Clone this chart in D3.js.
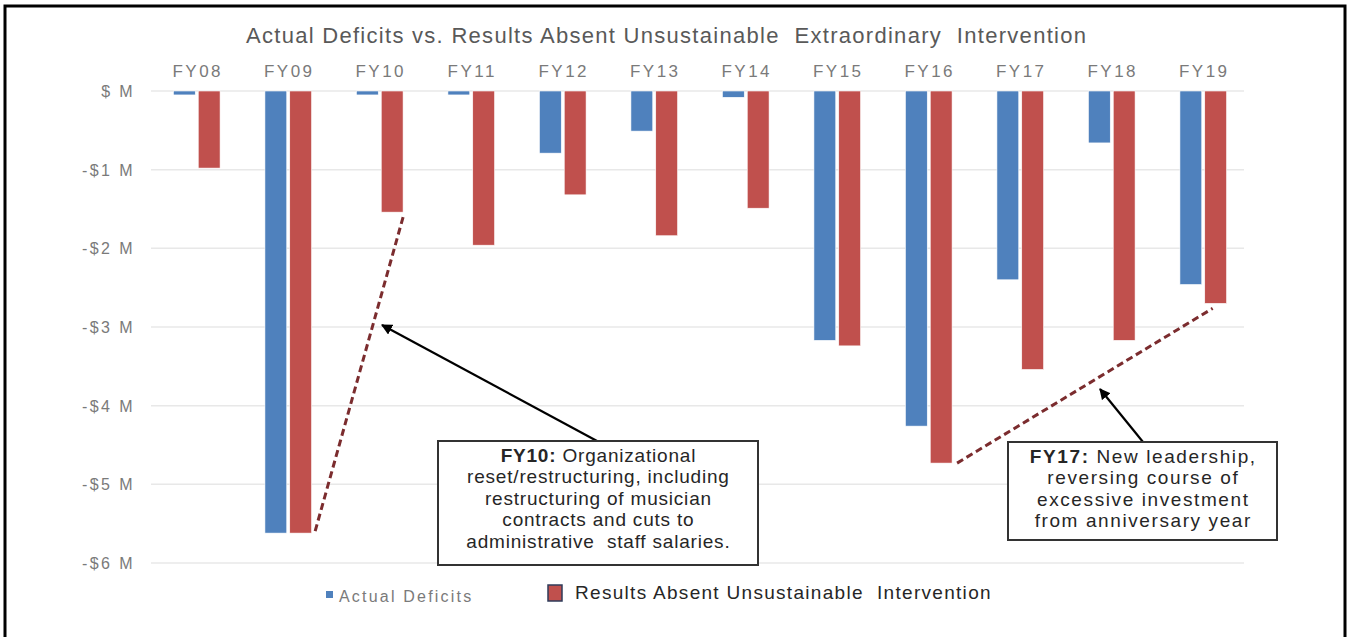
<!DOCTYPE html>
<html>
<head>
<meta charset="utf-8">
<script src="https://cdn.jsdelivr.net/npm/d3@7"></script>
<style>
  body { margin: 0; background: #fff; }
  svg { display: block; font-family: "Liberation Sans", Arial, sans-serif; }
  text { white-space: pre; }
</style>
</head>
<body>
<svg id="chart" width="1349" height="637"></svg>
<script>
// data, $M (negative = deficit)
const years = ["FY08", "FY09", "FY10", "FY11", "FY12", "FY13", "FY14", "FY15", "FY16", "FY17", "FY18", "FY19"];
const actual = [-0.05, -5.62, -0.05, -0.05, -0.79, -0.51, -0.08, -3.17, -4.26, -2.40, -0.66, -2.46];
const absent = [-0.98, -5.62, -1.54, -1.96, -1.32, -1.84, -1.49, -3.24, -4.73, -3.54, -3.17, -2.70];
const seriesNames = ["Actual Deficits", "Results Absent Unsustainable  Intervention"];
const yTicks = [0, -1, -2, -3, -4, -5, -6];
const title = "Actual Deficits vs. Results Absent Unsustainable  Extraordinary  Intervention";
const note1 = ["Organizational", "reset/restructuring, including", "restructuring of musician", "contracts and cuts to", "administrative  staff salaries."];
const note2 = ["New leadership,", "reversing course of", "excessive investment", "from anniversary year"];

const colors = ["#4f81bd", "#c0504d"];
const svg = d3.select("#chart");

// frame
svg.append("rect")
  .attr("x", 5).attr("y", 6).attr("width", 1340).attr("height", 640)
  .attr("fill", "none").attr("stroke", "#000").attr("stroke-width", 3);

const x = d3.scaleBand().domain(years).range([151, 1249]).paddingInner(0.49).paddingOuter(0.245);
const x1 = d3.scaleBand().domain([0, 1]).range([0, x.bandwidth()]).paddingInner(0.12);
const y = d3.scaleLinear().domain([-6, 0]).range([563, 91]);

// gridlines
svg.append("g")
  .selectAll("line")
  .data(yTicks)
  .join("line")
  .attr("x1", 151).attr("x2", 1244)
  .attr("y1", (d) => y(d)).attr("y2", (d) => y(d))
  .attr("stroke", "#e8e8e8").attr("stroke-width", 1.5);

// y labels
svg.append("g")
  .selectAll("text")
  .data(yTicks)
  .join("text")
  .attr("x", 135)
  .attr("y", (d) => y(d) + 6)
  .attr("text-anchor", "end")
  .attr("font-size", 16)
  .attr("letter-spacing", 2.4)
  .attr("fill", "#7a7a7a")
  .text((d) => (d === 0 ? "$ M" : `-$${-d} M`));

// category labels on top
svg.append("g")
  .selectAll("text")
  .data(years)
  .join("text")
  .attr("x", (d) => x(d) + x.bandwidth() / 2 + 1)
  .attr("y", 77)
  .attr("text-anchor", "middle")
  .attr("font-size", 17)
  .attr("letter-spacing", 2.5)
  .attr("fill", "#7a7a7a")
  .text((d) => d);

// title
svg.append("text")
  .attr("x", 666).attr("y", 43)
  .attr("text-anchor", "middle")
  .attr("font-size", 22)
  .attr("textLength", 840)
  .attr("lengthAdjust", "spacing")
  .attr("fill", "#595959")
  .text(title);

// bars
const rows = years.map((yr, i) => ({ yr, vals: [actual[i], absent[i]] }));
svg.append("g")
  .selectAll("g")
  .data(rows)
  .join("g")
  .attr("transform", (d) => `translate(${x(d.yr)},0)`)
  .selectAll("rect")
  .data((d) => d.vals.map((v, k) => ({ v, k })))
  .join("rect")
  .attr("x", (d) => x1(d.k))
  .attr("y", y(0))
  .attr("width", x1.bandwidth())
  .attr("height", (d) => y(d.v) - y(0))
  .attr("fill", (d) => colors[d.k])
  .attr("stroke", "#fff")
  .attr("stroke-width", 0.6);

// dashed trend lines between red bar bottoms
const redRight = (yr) => x(yr) + x1(1) + x1.bandwidth();
const redMid = (yr) => x(yr) + x1(1) + x1.bandwidth() / 2;
const val = (yr) => absent[years.indexOf(yr)];
const dashes = [
  [[redRight("FY10"), y(val("FY10")) + 5], [redRight("FY09") + 3, y(val("FY09"))]],
  [[redRight("FY16") + 5, y(val("FY16"))], [redMid("FY19") - 3, y(val("FY19")) + 5]],
];
svg.append("g")
  .selectAll("path")
  .data(dashes)
  .join("path")
  .attr("d", d3.line())
  .attr("fill", "none")
  .attr("stroke", "#7b2c2e")
  .attr("stroke-width", 3)
  .attr("stroke-dasharray", "7,4");

// arrows
svg.append("defs").append("marker")
  .attr("id", "arr")
  .attr("viewBox", "0 0 10 10")
  .attr("refX", 9).attr("refY", 5)
  .attr("markerWidth", 5).attr("markerHeight", 5)
  .attr("orient", "auto")
  .append("path")
  .attr("d", "M0,0L10,5L0,10z")
  .attr("fill", "#000");

const arrows = [
  [[597, 441], [382, 325]],
  [[1143, 442], [1100, 389]],
];
svg.append("g")
  .selectAll("path")
  .data(arrows)
  .join("path")
  .attr("d", d3.line())
  .attr("stroke", "#000")
  .attr("stroke-width", 2.2)
  .attr("marker-end", "url(#arr)");

// note boxes
function noteBox(bx, by, bw, bh, head, lines, ls) {
  const g = svg.append("g");
  g.append("rect")
    .attr("x", bx).attr("y", by).attr("width", bw).attr("height", bh)
    .attr("fill", "#fff").attr("stroke", "#333").attr("stroke-width", 2);
  const t = g.selectAll("text")
    .data(lines)
    .join("text")
    .attr("x", bx + bw / 2 + ls / 2)
    .attr("y", (d, i) => by + 21 + i * 21.4)
    .attr("text-anchor", "middle")
    .attr("font-size", 19)
    .attr("letter-spacing", ls)
    .attr("fill", "#262626");
  t.filter((d, i) => i === 0)
    .append("tspan").attr("font-weight", "bold").text(head + " ");
  t.append("tspan").text((d) => d);
}
noteBox(438, 441, 320, 124, "FY10:", note1, 0.8);
noteBox(1008, 442, 269, 98, "FY17:", note2, 1.6);

// legend
svg.append("rect")
  .attr("x", 326).attr("y", 591).attr("width", 7).attr("height", 7)
  .attr("fill", colors[0]);
svg.append("text")
  .attr("x", 339).attr("y", 602)
  .attr("font-size", 16)
  .attr("letter-spacing", 2.2)
  .attr("fill", "#7a7a7a")
  .text(seriesNames[0]);
svg.append("rect")
  .attr("x", 548).attr("y", 585).attr("width", 14).attr("height", 16)
  .attr("fill", colors[1]).attr("stroke", "#2f3b5a").attr("stroke-width", 1.5);
svg.append("text")
  .attr("x", 575).attr("y", 599)
  .attr("font-size", 19)
  .attr("letter-spacing", 1.3)
  .attr("fill", "#262626")
  .text(seriesNames[1]);
</script>
</body>
</html>
